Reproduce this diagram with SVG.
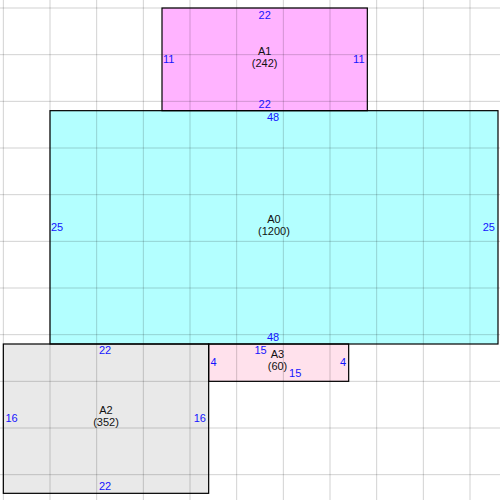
<svg xmlns="http://www.w3.org/2000/svg" width="500" height="500" viewBox="0 0 500 500">
<style>
.box{stroke:#000;stroke-width:1.2}
.grid line{stroke:#000;stroke-opacity:0.18;stroke-width:1}
.name{font-family:"Liberation Sans",Arial,sans-serif;font-size:11px;fill:#111;text-anchor:middle}
.dim{font-family:"Liberation Sans",Arial,sans-serif;font-size:11px;fill:#1414ff}
.c{text-anchor:middle}
.s{text-anchor:start}
.e{text-anchor:end}
</style>
<rect x="0" y="0" width="500" height="500" fill="#fff"/>
<g id="fills">
<rect x="162" y="8" width="205.33" height="102.67" fill="#ffb3ff"/>
<rect x="50" y="110.67" width="448" height="233.33" fill="#b3ffff"/>
<rect x="3.33" y="344" width="205.33" height="149.33" fill="#e9e9e9"/>
<rect x="208.67" y="344" width="140" height="37.33" fill="#ffe1ec"/>
</g>
<g class="grid">
<line x1="3.33" y1="0" x2="3.33" y2="500"/>
<line x1="50" y1="0" x2="50" y2="500"/>
<line x1="96.67" y1="0" x2="96.67" y2="500"/>
<line x1="143.33" y1="0" x2="143.33" y2="500"/>
<line x1="190" y1="0" x2="190" y2="500"/>
<line x1="236.67" y1="0" x2="236.67" y2="500"/>
<line x1="283.33" y1="0" x2="283.33" y2="500"/>
<line x1="330" y1="0" x2="330" y2="500"/>
<line x1="376.67" y1="0" x2="376.67" y2="500"/>
<line x1="423.33" y1="0" x2="423.33" y2="500"/>
<line x1="470" y1="0" x2="470" y2="500"/>
<line x1="0" y1="8" x2="500" y2="8"/>
<line x1="0" y1="54.67" x2="500" y2="54.67"/>
<line x1="0" y1="101.33" x2="500" y2="101.33"/>
<line x1="0" y1="148" x2="500" y2="148"/>
<line x1="0" y1="194.67" x2="500" y2="194.67"/>
<line x1="0" y1="241.33" x2="500" y2="241.33"/>
<line x1="0" y1="288" x2="500" y2="288"/>
<line x1="0" y1="334.67" x2="500" y2="334.67"/>
<line x1="0" y1="381.33" x2="500" y2="381.33"/>
<line x1="0" y1="428" x2="500" y2="428"/>
<line x1="0" y1="474.67" x2="500" y2="474.67"/>
</g>
<g id="A1">
<rect class="box" x="162" y="8" width="205.33" height="102.67" fill="none"/>
<text class="name" x="264.7" y="55">A1</text>
<text class="name" x="264.7" y="67">(242)</text>
<text class="dim c" x="264.7" y="19">22</text>
<text class="dim c" x="264.7" y="107.5">22</text>
<text class="dim s" x="163" y="63.3">11</text>
<text class="dim e" x="364.5" y="63.3">11</text>
</g>
<g id="A0">
<rect class="box" x="50" y="110.67" width="448" height="233.33" fill="none"/>
<text class="name" x="274" y="223">A0</text>
<text class="name" x="274" y="235">(1200)</text>
<text class="dim c" x="273" y="121">48</text>
<text class="dim c" x="273" y="340.7">48</text>
<text class="dim s" x="51" y="231">25</text>
<text class="dim e" x="495" y="231">25</text>
</g>
<g id="A2">
<rect class="box" x="3.33" y="344" width="205.33" height="149.33" fill="none"/>
<text class="name" x="106" y="414">A2</text>
<text class="name" x="106" y="426">(352)</text>
<text class="dim c" x="105" y="354.3">22</text>
<text class="dim c" x="105" y="490">22</text>
<text class="dim s" x="5.5" y="422">16</text>
<text class="dim e" x="206" y="422">16</text>
</g>
<g id="A3">
<rect class="box" x="208.67" y="344" width="140" height="37.33" fill="none"/>
<text class="name" x="277.5" y="358.3">A3</text>
<text class="name" x="277.5" y="370.3">(60)</text>
<text class="dim c" x="260.5" y="354.3">15</text>
<text class="dim c" x="295.2" y="377.3">15</text>
<text class="dim s" x="210.5" y="366">4</text>
<text class="dim e" x="346" y="366">4</text>
</g>
<g id="connectors"></g>
</svg>
